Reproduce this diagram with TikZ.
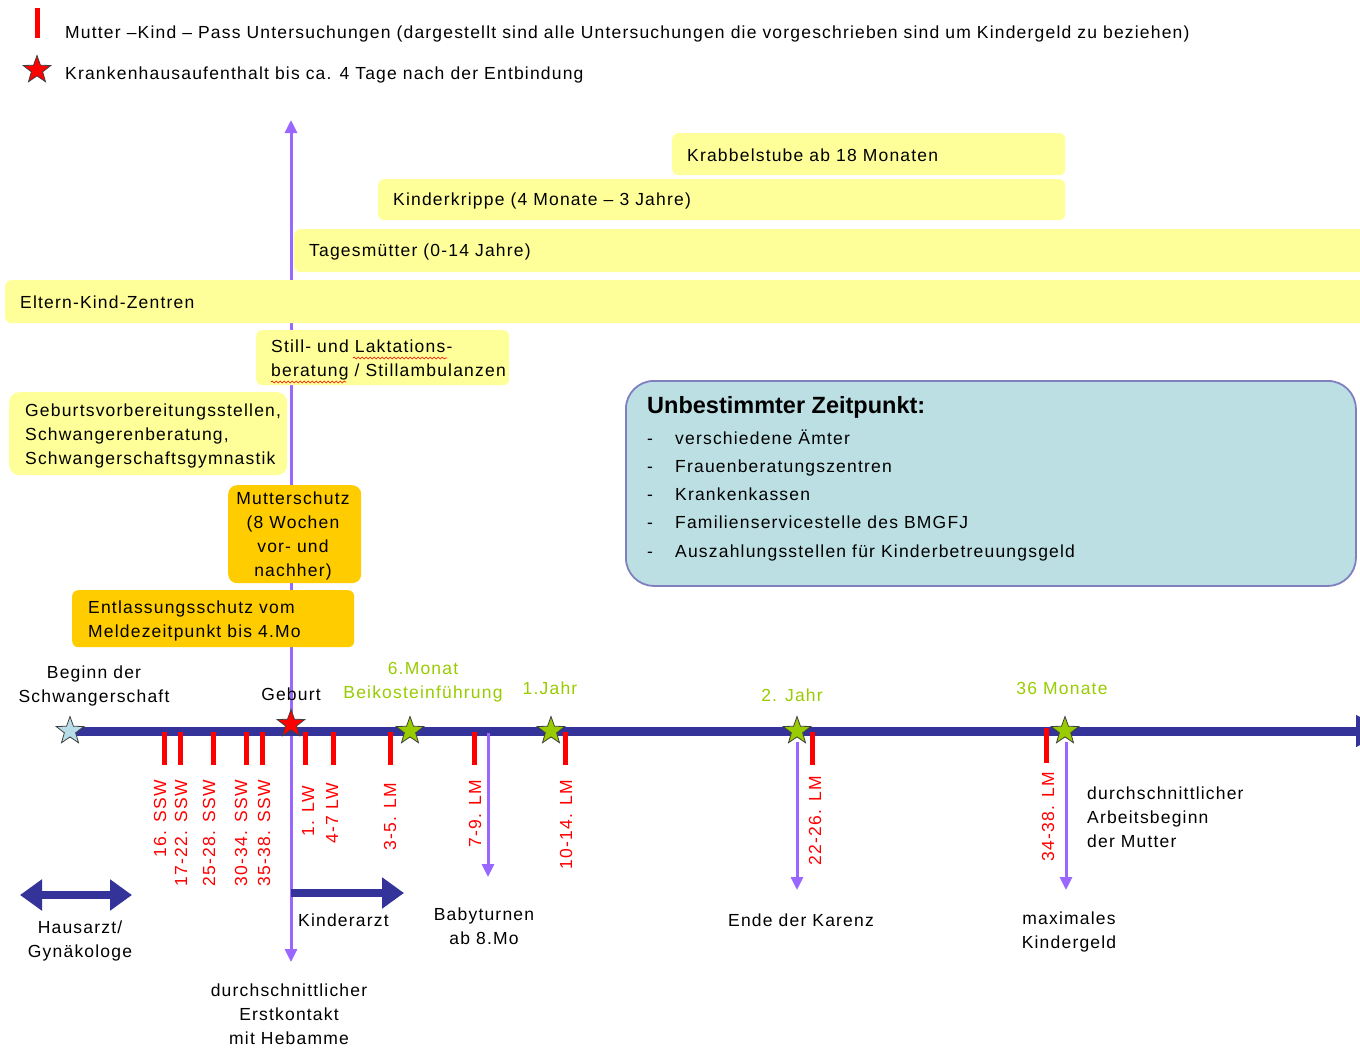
\documentclass[tikz,border=0pt]{standalone}
\usepackage{fontspec}
\setmainfont{Liberation Sans}[LetterSpace=6.8]
\newfontfamily\titlefont{Liberation Sans}
\usetikzlibrary{shapes.geometric,arrows.meta,decorations.pathmorphing}
\definecolor{yel}{HTML}{FFFF99}
\definecolor{org}{HTML}{FFCC00}
\definecolor{tline}{HTML}{333399}
\definecolor{purp}{HTML}{9966FF}
\definecolor{grn}{HTML}{99CC00}
\definecolor{bfill}{HTML}{BBDFE3}
\definecolor{bdraw}{HTML}{8080C0}
\definecolor{sblue}{HTML}{B7DEE8}
\definecolor{mred}{HTML}{FF0000}
\begin{document}
\begin{tikzpicture}[x=1pt,y=-1pt,
  txt/.style={font=\fontsize{17.5}{24}\selectfont, inner sep=0pt},
  redtxt/.style={txt, text=mred, rotate=90, anchor=east},
  grntxt/.style={txt, text=grn, align=center},
  ybox/.style={fill=yel, draw=none, rounded corners=6pt, anchor=north west, inner sep=0pt},
  obox/.style={fill=org, draw=none, rounded corners=9pt, anchor=north west, inner sep=0pt},
  tickmark/.style={draw=mred, line width=5pt},
  parrow/.style={draw=purp, line width=3pt, -{Triangle[length=13pt,width=12pt]}},
  barrow/.style={draw=tline, line width=9pt},
  mstar/.style={star, star points=5, star point ratio=2.45, minimum size=29pt, inner sep=0pt, draw=black!75, line width=0.8pt},
  wavy/.style={draw=mred, line width=0.6pt, decorate, decoration={snake, amplitude=1pt, segment length=4pt}}
]
\clip (0,0) rectangle (1360,1047);
\fill[white] (0,0) rectangle (1360,1047);

% legend
\coordinate (lg1) at (37,8);
\coordinate (lg2) at (37,38);
\draw[tickmark] (lg1) -- (lg2);
\node[txt, anchor=west] (legA) at (65,34) {Mutter –Kind – Pass Untersuchungen (dargestellt sind alle Untersuchungen die vorgeschrieben sind um Kindergeld zu beziehen)};
\node[mstar, fill=mred] (legstar) at (37,70) {};
\node[txt, anchor=west] (legB) at (65,75) {Krankenhausaufenthalt bis ca. 4 Tage nach der Entbindung};

% vertical Geburt axis
\coordinate (axtop) at (291,120);
\coordinate (axbot) at (291,962);
\coordinate (axmid) at (291,731);
\draw[parrow] (axmid) -- (axtop);
\draw[parrow] (axmid) -- (axbot);

% yellow boxes
\node[ybox, minimum width=393, minimum height=42] (krab) at (672,133) {};
\node[txt, anchor=west] (krabT) at (687,155) {Krabbelstube ab 18 Monaten};
\node[ybox, minimum width=687, minimum height=41] (krip) at (378,179) {};
\node[txt, anchor=west] (kripT) at (393,201) {Kinderkrippe (4 Monate – 3 Jahre)};
\node[ybox, minimum width=1106, minimum height=43] (tage) at (294,229) {};
\node[txt, anchor=west] (tageT) at (309,252) {Tagesmütter (0-14 Jahre)};
\node[ybox, minimum width=1395, minimum height=43] (eltern) at (5,280) {};
\node[txt, anchor=west] (elternT) at (20,302) {Eltern-Kind-Zentren};
\node[ybox, minimum width=253, minimum height=55] (still) at (256,330) {};
\node[txt, anchor=west, align=left] (stillT) at (271,360) {Still- und Laktations-\\beratung / Stillambulanzen};
\draw[wavy] (353,358) -- (447,358);
\draw[wavy] (271,382) -- (346,382);
\node[ybox, minimum width=278, minimum height=83, rounded corners=10pt] (gebv) at (9,392) {};
\node[txt, anchor=west, align=left] (gebvT) at (25,436) {Geburtsvorbereitungsstellen,\\Schwangerenberatung,\\Schwangerschaftsgymnastik};

% orange boxes
\node[obox, minimum width=133, minimum height=98] (mschutz) at (228,485) {};
\node[txt, align=center] (mschutzT) at (293,536) {Mutterschutz\\(8 Wochen\\vor- und\\nachher)};
\node[obox, minimum width=282, minimum height=57, rounded corners=6pt] (entl) at (72,590) {};
\node[txt, anchor=west, align=left] (entlT) at (88,621) {Entlassungsschutz vom\\Meldezeitpunkt bis 4.Mo};

% blue box
\node[fill=bfill, draw=bdraw, line width=1.8pt, rounded corners=28pt, minimum width=730, minimum height=205, anchor=north west, inner sep=0pt] (unb) at (625,380) {};
\node[font=\titlefont\bfseries\fontsize{23.5}{27}\selectfont, inner sep=0pt, anchor=west] (unbT) at (647,407) {Unbestimmter Zeitpunkt:};
\foreach \yy/\tt [count=\i] in {444/verschiedene Ämter, 472/Frauenberatungszentren, 500/Krankenkassen, 528/Familienservicestelle des BMGFJ, 557/Auszahlungsstellen für Kinderbetreuungsgeld}{
  \node[txt, anchor=base west] (item\i) at (675,\yy) {\tt};
  \node[txt, anchor=base] (dash\i) at (650,\yy) {-};
}

% timeline
\coordinate (tlstart) at (70,731);
\coordinate (tlend) at (1386,731);
\draw[barrow, -{Triangle[length=30pt,width=30pt]}] (tlstart) -- (tlend);

% red ticks
\foreach \xx in {164,180,213,246,262,305,333,390,474,565,812}{
  \draw[tickmark] (\xx,732) -- (\xx,765);
}
\draw[tickmark] (1046,728) -- (1046,763);

% red labels
\node[redtxt] (l1) at (160,780) {16. SSW};
\node[redtxt] (l2) at (181,780) {17-22. SSW};
\node[redtxt] (l3) at (209,780) {25-28. SSW};
\node[redtxt] (l4) at (241,780) {30-34. SSW};
\node[redtxt] (l5) at (264,780) {35-38. SSW};
\node[redtxt] (l6) at (308,786) {1. LW};
\node[redtxt] (l7) at (332,783) {4-7 LW};
\node[redtxt] (l8) at (390,783) {3-5. LM};
\node[redtxt] (l9) at (475,780) {7-9. LM};
\node[redtxt] (l10) at (566,780) {10-14. LM};
\node[redtxt] (l11) at (815,776) {22-26. LM};
\node[redtxt] (l12) at (1048,772) {34-38. LM};

% purple down arrows
\coordinate (bt1) at (488,733);
\coordinate (bt2) at (488,877);
\coordinate (ka1) at (797,742);
\coordinate (ka2) at (797,890);
\coordinate (kg1) at (1066,742);
\coordinate (kg2) at (1066,890);
\draw[parrow] (bt1) -- (bt2);
\draw[parrow] (ka1) -- (ka2);
\draw[parrow] (kg1) -- (kg2);

% stars
\node[mstar, fill=sblue] (sBeginn) at (70,731) {};
\node[mstar, fill=mred] (sGeburt) at (291,724) {};
\node[mstar, fill=grn] (s6m) at (410,731) {};
\node[mstar, fill=grn] (s1j) at (551,731) {};
\node[mstar, fill=grn] (s2j) at (797,731) {};
\node[mstar, fill=grn] (s36) at (1065,731) {};

% labels above timeline
\node[txt, align=center] (beginn) at (94,686) {Beginn der\\Schwangerschaft};
\node[txt] (geburt) at (291,694) {Geburt};
\node[grntxt] (m6) at (423,682) {6.Monat\\Beikosteinführung};
\node[grntxt] (j1) at (550,688) {1.Jahr};
\node[grntxt] (j2) at (792,695) {2. Jahr};
\node[grntxt] (m36) at (1062,688) {36 Monate};

% horizontal thick arrows
\coordinate (ha1) at (20,895);
\coordinate (ha2) at (132,895);
\draw[barrow, line width=8pt, {Triangle[length=22pt,width=30pt]}-{Triangle[length=22pt,width=30pt]}] (ha1) -- (ha2);
\coordinate (ka0) at (291,893);
\coordinate (kae) at (404,893);
\draw[barrow, line width=8pt, -{Triangle[length=22pt,width=30pt]}] (ka0) -- (kae);

% labels below
\node[txt, align=center] (hausarzt) at (80,941) {Hausarzt/\\Gynäkologe};
\node[txt, anchor=west] (kinderarzt) at (298,920) {Kinderarzt};
\node[txt, align=center] (baby) at (484,926) {Babyturnen\\ab 8.Mo};
\node[txt] (karenz) at (801,920) {Ende der Karenz};
\node[txt, align=center] (maxkg) at (1069,932) {maximales\\Kindergeld};
\node[txt, anchor=west, align=left] (arbeit) at (1087,817) {durchschnittlicher\\Arbeitsbeginn\\der Mutter};
\node[txt, align=center] (hebamme) at (289,1014) {durchschnittlicher\\Erstkontakt\\mit Hebamme};
\end{tikzpicture}
\end{document}
